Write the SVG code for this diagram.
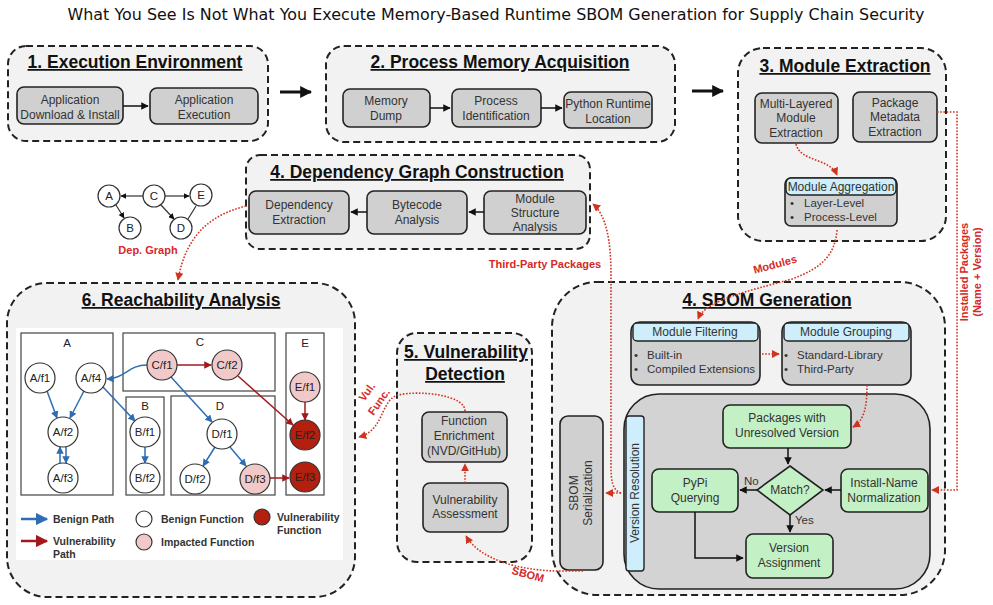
<svg xmlns="http://www.w3.org/2000/svg" width="993" height="605" viewBox="0 0 993 605">
<defs>
<style>
.sec{fill:#f2f2f2;stroke:#222;stroke-width:2;stroke-dasharray:7 4}
.box{fill:#d0d0d0;stroke:#222;stroke-width:1.6}
.grn{fill:#c4f0c6;stroke:#222;stroke-width:1.6}
.hdr{fill:#cdeefa;stroke:#222;stroke-width:1.4}
.st{font-family:"Liberation Sans",Arial,sans-serif;font-weight:bold;font-size:17.5px;fill:#111;text-anchor:middle;text-decoration:underline}
.t{font-family:"Liberation Sans",Arial,sans-serif;font-size:12px;fill:#333;text-anchor:middle}
.tl{font-family:"Liberation Sans",Arial,sans-serif;font-size:11.5px;fill:#333}
.nt{font-family:"Liberation Sans",Arial,sans-serif;font-size:11.5px;fill:#222;text-anchor:middle}
.lg{font-family:"Liberation Sans",Arial,sans-serif;font-size:10.5px;font-weight:bold;fill:#333}
.rl{font-family:"Liberation Sans",Arial,sans-serif;font-size:11px;font-weight:bold;fill:#d42a2a;text-anchor:middle}
.ar{fill:none;stroke:#111;stroke-width:1.5;marker-end:url(#ab)}
.big{fill:none;stroke:#111;stroke-width:3;marker-end:url(#abig)}
.rd{fill:none;stroke:#d0341f;stroke-width:1.6;stroke-dasharray:1.6 1.6;marker-end:url(#ar)}
.bl{fill:none;stroke:#2e6db4;stroke-width:1.5;marker-end:url(#abl)}
.vr{fill:none;stroke:#a3191b;stroke-width:1.5;marker-end:url(#avr)}
.nw{fill:#fff;stroke:#333;stroke-width:1.2}
.np{fill:#f2c9c9;stroke:#333;stroke-width:1.2}
.nd{fill:#b3200f;stroke:#333;stroke-width:1.2}
</style>
<marker id="ab" viewBox="0 0 10 10" refX="9" refY="5" markerWidth="5" markerHeight="5" orient="auto"><path d="M0,0 L10,5 L0,10 z" fill="#111"/></marker>
<marker id="abig" viewBox="0 0 10 10" refX="9" refY="5" markerWidth="4" markerHeight="4" orient="auto"><path d="M0,0 L10,5 L0,10 z" fill="#111"/></marker>
<marker id="ar" viewBox="0 0 10 10" refX="9" refY="5" markerWidth="5" markerHeight="5" orient="auto"><path d="M0,0 L10,5 L0,10 z" fill="#d0341f"/></marker>
<marker id="abl" viewBox="0 0 10 10" refX="9" refY="5" markerWidth="5" markerHeight="5" orient="auto"><path d="M0,0 L10,5 L0,10 z" fill="#2e6db4"/></marker>
<marker id="avr" viewBox="0 0 10 10" refX="9" refY="5" markerWidth="5" markerHeight="5" orient="auto"><path d="M0,0 L10,5 L0,10 z" fill="#a3191b"/></marker>
</defs>
<rect width="993" height="605" fill="#fff"/>
<text x="496" y="20" font-family="DejaVu Sans,sans-serif" font-size="15" fill="#111" text-anchor="middle" textLength="857" lengthAdjust="spacingAndGlyphs">What You See Is Not What You Execute Memory-Based Runtime SBOM Generation for Supply Chain Security</text>

<!-- Section 1 -->
<g id="sec1">
<rect class="sec" x="8" y="46" width="260" height="95" rx="18"/>
<text class="st" x="135" y="68">1. Execution Environment</text>
</g>
<g id="n-app-download"><rect class="box" x="17" y="87" width="106" height="37" rx="7"/><text class="t" x="70" y="104">Application</text><text class="t" x="70" y="119">Download &amp; Install</text></g>
<g id="n-app-exec"><rect class="box" x="150" y="88" width="108" height="36" rx="7"/><text class="t" x="204" y="104">Application</text><text class="t" x="204" y="119">Execution</text></g>

<!-- Section 2 -->
<g id="sec2">
<rect class="sec" x="326" y="46" width="349" height="96" rx="18"/>
<text class="st" x="500" y="68">2. Process Memory Acquisition</text>
</g>
<g id="n-memdump"><rect class="box" x="343" y="89" width="87" height="38" rx="7"/><text class="t" x="386" y="105">Memory</text><text class="t" x="386" y="120">Dump</text></g>
<g id="n-procid"><rect class="box" x="452" y="89" width="89" height="38" rx="7"/><text class="t" x="496" y="105">Process</text><text class="t" x="496" y="120">Identification</text></g>
<g id="n-pyrt"><rect class="box" x="564" y="92" width="88" height="36" rx="7"/><text class="t" x="608" y="108">Python Runtime</text><text class="t" x="608" y="123">Location</text></g>

<!-- Section 3 -->
<g id="sec3">
<rect class="sec" x="738" y="48" width="208" height="193" rx="25"/>
<text class="st" x="845" y="72">3. Module Extraction</text>
</g>
<g id="n-multilayer"><rect class="box" x="755" y="93" width="83" height="50" rx="7"/><text class="t" x="796" y="108">Multi-Layered</text><text class="t" x="796" y="122">Module</text><text class="t" x="796" y="137">Extraction</text></g>
<g id="n-pkgmeta"><rect class="box" x="853" y="92" width="84" height="50" rx="7"/><text class="t" x="895" y="107">Package</text><text class="t" x="895" y="121">Metadata</text><text class="t" x="895" y="136">Extraction</text></g>
<g id="n-modagg"><rect class="box" x="785" y="178" width="112" height="48" rx="6"/><rect class="hdr" x="786" y="178" width="110" height="17" rx="5"/><text class="t" x="841" y="191" font-size="11.5">Module Aggregation</text><text class="tl" x="790" y="207">•</text><text class="tl" x="804" y="207">Layer-Level</text><text class="tl" x="790" y="221">•</text><text class="tl" x="804" y="221">Process-Level</text></g>

<!-- Section 4 dependency graph -->
<g id="sec4dep">
<rect class="sec" x="246" y="155" width="344" height="94" rx="14"/>
<text class="st" x="417" y="178">4. Dependency  Graph Construction</text>
</g>
<g id="n-depext"><rect class="box" x="249" y="191" width="100" height="43" rx="7"/><text class="t" x="299" y="209">Dependency</text><text class="t" x="299" y="224">Extraction</text></g>
<g id="n-bytecode"><rect class="box" x="367" y="191" width="100" height="43" rx="7"/><text class="t" x="417" y="209">Bytecode</text><text class="t" x="417" y="224">Analysis</text></g>
<g id="n-modstruct"><rect class="box" x="484" y="191" width="102" height="43" rx="7"/><text class="t" x="535" y="203">Module</text><text class="t" x="535" y="217">Structure</text><text class="t" x="535" y="231">Analysis</text></g>

<!-- mini dep graph -->
<g id="depgraph">
<line x1="143" y1="196" x2="121" y2="196" stroke="#333" stroke-width="1.2" marker-end="url(#ab)"/>
<line x1="165" y1="196" x2="189" y2="196" stroke="#333" stroke-width="1.2" marker-end="url(#ab)"/>
<line x1="116" y1="205" x2="124" y2="218" stroke="#333" stroke-width="1.2" marker-end="url(#ab)"/>
<line x1="161" y1="205" x2="174" y2="219" stroke="#333" stroke-width="1.2" marker-end="url(#ab)"/>
<line x1="188" y1="219" x2="196" y2="206" stroke="#333" stroke-width="1.2"/>
<circle class="nw" cx="109" cy="196" r="11"/><text class="nt" x="109" y="200">A</text>
<circle class="nw" cx="154" cy="196" r="11"/><text class="nt" x="154" y="200">C</text>
<circle class="nw" cx="201" cy="195" r="11"/><text class="nt" x="201" y="199">E</text>
<circle class="nw" cx="130" cy="228" r="11"/><text class="nt" x="130" y="232">B</text>
<circle class="nw" cx="181" cy="228" r="11"/><text class="nt" x="181" y="232">D</text>
<text class="rl" x="148" y="254">Dep. Graph</text>
</g>

<!-- Section 6 reachability -->
<g id="sec6">
<rect class="sec" x="7" y="283" width="348" height="314" rx="40"/>
<text class="st" x="181" y="306">6. Reachability Analysis</text>
<rect x="16" y="328" width="327" height="232" fill="#fff"/>
<rect x="21" y="333" width="92" height="162" fill="none" stroke="#444" stroke-width="1.2"/>
<rect x="123" y="333" width="152" height="58" fill="none" stroke="#444" stroke-width="1.2"/>
<rect x="126" y="397" width="38" height="98" fill="none" stroke="#444" stroke-width="1.2"/>
<rect x="171" y="396" width="104" height="99" fill="none" stroke="#444" stroke-width="1.2"/>
<rect x="286" y="333" width="38" height="162" fill="none" stroke="#444" stroke-width="1.2"/>
<text class="nt" x="67" y="347" font-size="13">A</text>
<text class="nt" x="200" y="346" font-size="13">C</text>
<text class="nt" x="145" y="410" font-size="13">B</text>
<text class="nt" x="220" y="410" font-size="13">D</text>
<text class="nt" x="305" y="347" font-size="13">E</text>
</g>
<g id="reach-edges">
<line class="bl" x1="47" y1="391" x2="57" y2="418"/>
<line class="bl" x1="84" y1="391" x2="70" y2="418"/>
<line class="bl" x1="66" y1="447" x2="66" y2="463"/>
<line class="bl" x1="60" y1="463" x2="60" y2="447"/>
<line class="bl" x1="103" y1="387" x2="135" y2="421"/>
<line class="bl" x1="145" y1="447" x2="145" y2="463"/>
<path class="bl" d="M147,365 C128,365 126,378 107,379"/>
<line class="bl" x1="171" y1="377" x2="212" y2="422"/>
<line class="bl" x1="215" y1="447" x2="203" y2="466"/>
<line class="bl" x1="230" y1="447" x2="246" y2="466"/>
<line class="vr" x1="177" y1="365" x2="211" y2="365"/>
<line class="vr" x1="238" y1="376" x2="293" y2="425"/>
<line class="vr" x1="305" y1="402" x2="305" y2="420"/>
<line class="vr" x1="270" y1="478" x2="289" y2="478"/>
</g>
<g id="reach-nodes">
<circle class="nw" cx="40" cy="378" r="15"/><text class="nt" x="40" y="382">A/f1</text>
<circle class="nw" cx="91" cy="378" r="15"/><text class="nt" x="91" y="382">A/f4</text>
<circle class="nw" cx="63" cy="432" r="15"/><text class="nt" x="63" y="436">A/f2</text>
<circle class="nw" cx="63" cy="478" r="15"/><text class="nt" x="63" y="482">A/f3</text>
<circle class="nw" cx="145" cy="432" r="15"/><text class="nt" x="145" y="436">B/f1</text>
<circle class="nw" cx="145" cy="478" r="15"/><text class="nt" x="145" y="482">B/f2</text>
<circle class="np" cx="162" cy="365" r="15"/><text class="nt" x="162" y="369">C/f1</text>
<circle class="np" cx="227" cy="365" r="15"/><text class="nt" x="227" y="369">C/f2</text>
<circle class="nw" cx="222" cy="434" r="15"/><text class="nt" x="222" y="438">D/f1</text>
<circle class="nw" cx="195" cy="479" r="15"/><text class="nt" x="195" y="483">D/f2</text>
<circle class="np" cx="255" cy="479" r="15"/><text class="nt" x="255" y="483">D/f3</text>
<circle class="np" cx="305" cy="387" r="15"/><text class="nt" x="305" y="391">E/f1</text>
<circle class="nd" cx="305" cy="435" r="15"/><text class="nt" x="305" y="439">E/f2</text>
<circle class="nd" cx="305" cy="477" r="15"/><text class="nt" x="305" y="481">E/f3</text>
</g>
<g id="legend">
<line x1="21" y1="519" x2="47" y2="519" stroke="#2e6db4" stroke-width="2.5" marker-end="url(#abl)"/>
<text class="lg" x="53" y="523">Benign Path</text>
<line x1="21" y1="541" x2="47" y2="541" stroke="#a3191b" stroke-width="2.5" marker-end="url(#avr)"/>
<text class="lg" x="53" y="545">Vulnerability</text>
<text class="lg" x="53" y="558">Path</text>
<circle class="nw" cx="144" cy="519" r="8"/>
<text class="lg" x="161" y="523">Benign Function</text>
<circle class="np" cx="144" cy="542" r="8"/>
<text class="lg" x="161" y="546">Impacted Function</text>
<circle class="nd" cx="262" cy="517" r="8"/>
<text class="lg" x="277" y="521">Vulnerability</text>
<text class="lg" x="277" y="534">Function</text>
</g>

<!-- Section 5 -->
<g id="sec5">
<rect class="sec" x="397" y="333" width="135" height="229" rx="20"/>
<text class="st" x="466" y="358">5. Vulnerability</text>
<text class="st" x="465" y="380">Detection</text>
</g>
<g id="n-funcenrich"><rect class="box" x="422" y="412" width="85" height="50" rx="7"/><text class="t" x="464" y="425">Function</text><text class="t" x="464" y="440">Enrichment</text><text class="t" x="464" y="455">(NVD/GitHub)</text></g>
<g id="n-vulnassess"><rect class="box" x="423" y="483" width="85" height="49" rx="7"/><text class="t" x="465" y="504">Vulnerability</text><text class="t" x="465" y="518">Assessment</text></g>

<!-- Section 4 SBOM generation -->
<g id="sec4sbom">
<rect class="sec" x="552" y="282" width="393" height="313" rx="45"/>
<text class="st" x="767" y="306">4. SBOM Generation</text>
<rect x="624" y="394" width="306" height="195" rx="35" fill="#d3d3d3" stroke="#222" stroke-width="1.6"/>
</g>
<g id="n-modfilter"><rect class="box" x="631" y="322" width="129" height="63" rx="9"/><rect class="hdr" x="633" y="323" width="125" height="18" rx="4"/><text class="t" x="695" y="336">Module Filtering</text><text class="tl" x="634" y="359">•</text><text class="tl" x="647" y="359">Built-in</text><text class="tl" x="634" y="373">•</text><text class="tl" x="647" y="373">Compiled Extensions</text></g>
<g id="n-modgroup"><rect class="box" x="782" y="322" width="129" height="63" rx="9"/><rect class="hdr" x="784" y="323" width="125" height="18" rx="4"/><text class="t" x="846" y="336">Module Grouping</text><text class="tl" x="784" y="359">•</text><text class="tl" x="797" y="359">Standard-Library</text><text class="tl" x="784" y="373">•</text><text class="tl" x="797" y="373">Third-Party</text></g>
<g id="n-sbomser"><rect class="box" x="560" y="416" width="43" height="154" rx="8"/><text class="t" transform="translate(581,493) rotate(-90)" y="-3">SBOM</text><text class="t" transform="translate(581,493) rotate(-90)" y="11">Serialization</text></g>
<g id="n-verres"><rect x="626" y="416" width="18" height="155" rx="3" fill="#cdeefa" stroke="#222" stroke-width="1.4"/><text class="t" transform="translate(639,493) rotate(-90)">Version Resolution</text></g>
<g id="n-unresolved"><rect class="grn" x="723" y="405" width="128" height="43" rx="7"/><text class="t" x="787" y="422">Packages with</text><text class="t" x="787" y="437">Unresolved Version</text></g>
<g id="n-match"><polygon class="grn" points="790,466 823,490 790,515 757,490"/><text class="t" x="790" y="494">Match?</text></g>
<g id="n-installname"><rect class="grn" x="841" y="469" width="87" height="43" rx="7"/><text class="t" x="884" y="487">Install-Name</text><text class="t" x="884" y="502">Normalization</text></g>
<g id="n-pypi"><rect class="grn" x="652" y="469" width="86" height="43" rx="7"/><text class="t" x="695" y="487">PyPi</text><text class="t" x="695" y="502">Querying</text></g>
<g id="n-verassign"><rect class="grn" x="746" y="534" width="87" height="44" rx="7"/><text class="t" x="789" y="552">Version</text><text class="t" x="789" y="567">Assignment</text></g>

<!-- Connectors -->
<g id="connectors">
<line class="ar" x1="123" y1="106" x2="148" y2="106"/>
<line class="ar" x1="430" y1="108" x2="450" y2="108"/>
<line class="ar" x1="541" y1="108" x2="562" y2="108"/>
<line class="big" x1="280" y1="92" x2="311" y2="92"/>
<line class="big" x1="692" y1="91" x2="723" y2="91"/>
<line class="ar" x1="484" y1="212" x2="469" y2="212"/>
<line class="ar" x1="367" y1="212" x2="351" y2="212"/>
<line class="ar" x1="788" y1="448" x2="788" y2="464"/>
<line class="ar" x1="841" y1="490" x2="825" y2="490"/>
<line class="ar" x1="757" y1="490" x2="740" y2="490"/>
<line class="ar" x1="790" y1="515" x2="790" y2="532"/>
<path class="ar" d="M695,512 L695,558 L743,558"/>
<text class="tl" x="744" y="485">No</text>
<text class="tl" x="795" y="524">Yes</text>

<path class="rd" d="M796,144 C800,162 830,158 837,175"/>
<path class="rd" d="M837,230 C835,255 822,268 792,279 C745,292 706,300 698,319"/>
<text class="rl" transform="translate(776,268) rotate(-15)">Modules</text>
<line class="rd" x1="762" y1="354" x2="779" y2="354"/>
<path class="rd" d="M867,385 C867,405 865,420 853,427"/>
<path class="rd" d="M937,112 L957,112 L957,490 L932,490"/>
<text class="rl" transform="translate(968,272) rotate(-90)">Installed Packages</text>
<text class="rl" transform="translate(981,272) rotate(-90)">(Name + Version)</text>
<path class="rd" d="M621,493 L606,493"/>
<path class="rd" d="M621,493 C612,490 611,480 611,465 L611,275 C611,240 606,215 593,204"/>
<text class="rl" x="545" y="268">Third-Party Packages</text>
<path class="rd" d="M246,206 C210,215 186,235 178,280"/>
<path class="rd" d="M465,483 L465,464"/>
<path class="rd" d="M465,411 C465,395 420,390 398,395 C380,400 385,430 359,437"/>
<text class="rl" transform="translate(370,394) rotate(-55)">Vul.</text>
<text class="rl" transform="translate(382,404) rotate(-55)">Func.</text>
<path class="rd" d="M583,571 L555,571 C520,570 480,560 466,536"/>
<text class="rl" transform="translate(527,578) rotate(15)">SBOM</text>
</g>
</svg>
